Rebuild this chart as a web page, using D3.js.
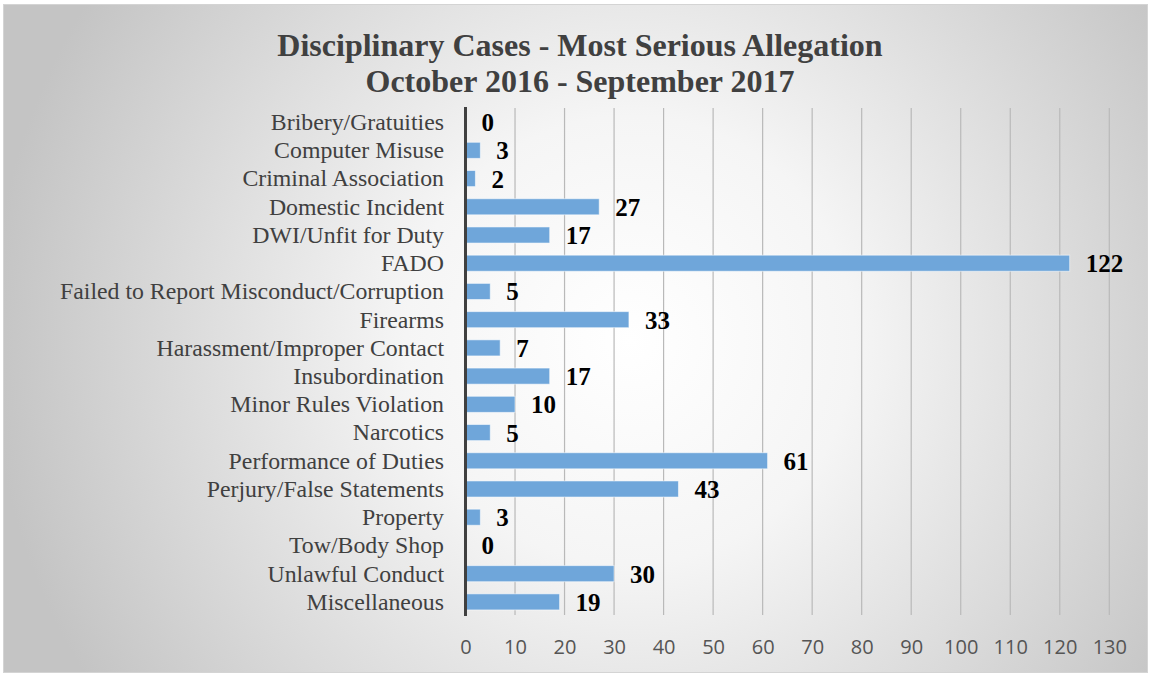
<!DOCTYPE html>
<html><head><meta charset="utf-8">
<script src="https://cdn.jsdelivr.net/npm/d3@7"></script>
<style>html,body{margin:0;padding:0;background:#fff;}svg{display:block;}</style>
</head><body>
<script>
const categories = ["Bribery/Gratuities","Computer Misuse","Criminal Association","Domestic Incident","DWI/Unfit for Duty","FADO","Failed to Report Misconduct/Corruption","Firearms","Harassment/Improper Contact","Insubordination","Minor Rules Violation","Narcotics","Performance of Duties","Perjury/False Statements","Property","Tow/Body Shop","Unlawful Conduct","Miscellaneous"];
const values = [0,3,2,27,17,122,5,33,7,17,10,5,61,43,3,0,30,19];
const tickValues = [0,10,20,30,40,50,60,70,80,90,100,110,120,130];
const titleLines = ["Disciplinary Cases - Most Serious Allegation","October 2016 - September 2017"];

const W = 1151, H = 677;
const svg = d3.select("body").append("svg").attr("width", W).attr("height", H);
const defs = svg.append("defs");
const rg = defs.append("radialGradient").attr("id","bg")
  .attr("gradientUnits","userSpaceOnUse").attr("cx",630).attr("cy",340).attr("r",640);
rg.append("stop").attr("offset","0%").attr("stop-color","#ffffff");
rg.append("stop").attr("offset","35%").attr("stop-color","#f5f5f5");
rg.append("stop").attr("offset","100%").attr("stop-color","#c4c4c4");

svg.append("rect").attr("x",3.5).attr("y",4.5).attr("width",1144).attr("height",668)
  .attr("fill","url(#bg)").attr("stroke","#d4d4d4").attr("stroke-width",1);

const x = d3.scaleLinear().domain([0,130]).range([465.5,1109.3]);
const y = d3.scaleBand().domain(categories).range([108,616]).paddingInner(0.43).paddingOuter(0.215);

// gridlines
svg.append("g").selectAll("line").data(tickValues.slice(1)).join("line")
  .attr("x1",d=>x(d)).attr("x2",d=>x(d)).attr("y1",108).attr("y2",615)
  .attr("stroke","#b9b9b9").attr("stroke-width",1.2);

// x axis
const xAxis = svg.append("g").attr("transform","translate(0,615)")
  .call(d3.axisBottom(x).tickValues(tickValues).tickSize(0).tickPadding(0));
xAxis.select(".domain").remove();
xAxis.selectAll("text").attr("y",39).attr("dy",0)
  .attr("font-family","'Open Sans', sans-serif").attr("font-size",20).attr("fill","#555555");

// bars
svg.append("g").selectAll("rect").data(values).join("rect")
  .attr("x",x(0)).attr("y",(d,i)=>y(categories[i]))
  .attr("width",d=>x(d)-x(0)).attr("height",y.bandwidth())
  .attr("fill","#6fa6da").attr("stroke","rgba(255,255,255,0.55)").attr("stroke-width",1);

// y axis line
svg.append("line").attr("x1",x(0)).attr("x2",x(0)).attr("y1",107).attr("y2",616)
  .attr("stroke","#404040").attr("stroke-width",3);

// category labels
const yAxis = svg.append("g").attr("transform","translate(444,0)")
  .call(d3.axisLeft(y).tickSize(0).tickPadding(0));
yAxis.select(".domain").remove();
yAxis.selectAll("text").attr("x",0).attr("dy","0.33em")
  .attr("font-family","'Liberation Serif', 'Times New Roman', serif").attr("font-size",23.8).attr("fill","#404040");

// value labels
svg.append("g").selectAll("text").data(values).join("text")
  .attr("x",d=>x(d)+16).attr("y",(d,i)=>y(categories[i])+y.bandwidth()/2).attr("dy","0.36em")
  .attr("font-family","'Liberation Serif', 'Times New Roman', serif").attr("font-weight","bold")
  .attr("font-size",25).attr("fill","#000").text(d=>d);

// title
svg.append("g").selectAll("text").data(titleLines).join("text")
  .attr("x",580).attr("y",(d,i)=>56+i*36).attr("text-anchor","middle")
  .attr("font-family","'Liberation Serif', 'Times New Roman', serif").attr("font-weight","bold")
  .attr("font-size",32).attr("fill","#404040").text(d=>d);
</script>
</body></html>
